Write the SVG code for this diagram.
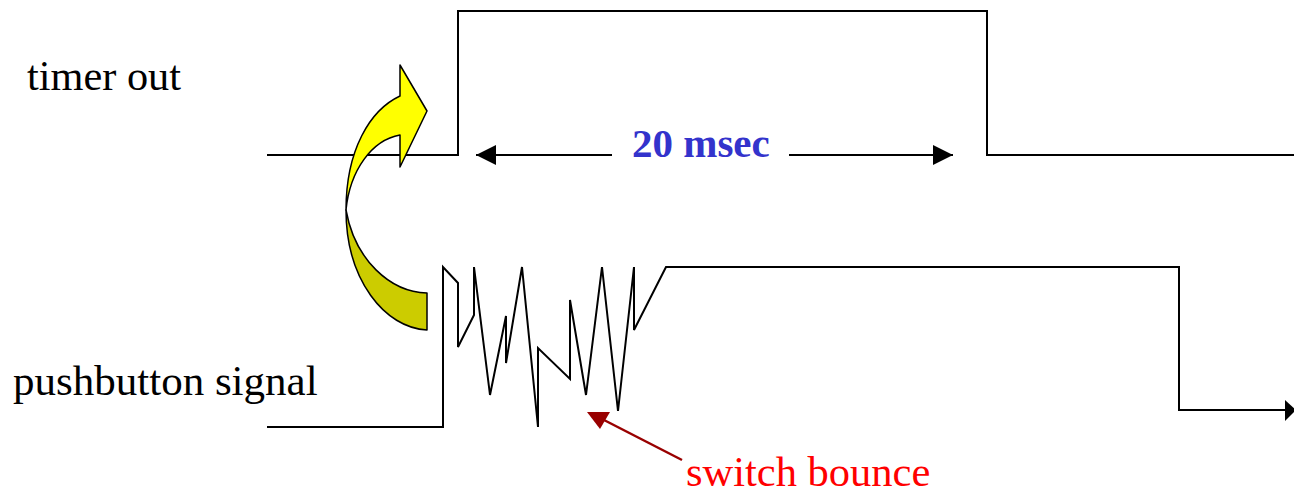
<svg xmlns="http://www.w3.org/2000/svg" width="1294" height="496" viewBox="0 0 1294 496">
<style>
.wave{fill:none;stroke:#000;stroke-width:2;stroke-linejoin:miter}
.lbl{font-family:"Liberation Serif","Times New Roman",serif;font-size:43px;fill:#000}
.dim{stroke:#000;stroke-width:2;fill:none}
</style>
<defs>
<marker id="ah" markerWidth="20" markerHeight="20" refX="20" refY="10" orient="auto" markerUnits="userSpaceOnUse">
<path d="M0,0 L20,10 L0,20 Z" fill="#000"/>
</marker>
</defs>
<rect width="1294" height="496" fill="#fff"/>
<g id="timer-out">
<polyline class="wave" points="267,155 458,155 458,11 987,11 987,155 1294,155"/>
</g>
<g id="pushbutton">
<polyline class="wave" points="267,427 443,427 443,267 458,283 458,347 474,315 474,267 490,395 506,316 506,363 522,267 538,427 538,348 570,379 570,300 586,395 602,267 618,411 634,267 634,330 666,267 1179,267 1179,410 1286,410"/>
<polygon points="1285,400 1296,410 1285,421" fill="#000"/>
</g>
<g id="connectors">
<line class="dim" x1="612" y1="155" x2="476" y2="155" marker-end="url(#ah)"/>
<line class="dim" x1="789" y1="155" x2="953" y2="155" marker-end="url(#ah)"/>
<line x1="682" y1="460" x2="604" y2="420" stroke="#990000" stroke-width="2.5"/>
<polygon points="587,412 610,412 600,429" fill="#990000"/>
</g>
<g id="curved-arrow" stroke="#000" stroke-width="1.5" stroke-linejoin="round">
<path d="M346,210 C346,280 385,328 427,330 L427,293 C390,292 355,260 346,210 Z" fill="#CCCC00"/>
<path d="M400,96 L400,65 L427,111 L400,167 L400,135 C372,140 350,170 346,210 C346,150 370,110 400,96 Z" fill="#FFFF00"/>
</g>
<g id="labels">
<text class="lbl" x="27" y="90" textLength="154" lengthAdjust="spacingAndGlyphs">timer out</text>
<text class="lbl" x="13" y="395">pushbutton signal</text>
<text x="632" y="157" font-family="Liberation Serif,Times New Roman,serif" font-size="41" font-weight="bold" fill="#3333CC">20 msec</text>
<text x="686" y="486" font-family="Liberation Serif,Times New Roman,serif" font-size="42.5" fill="#FF0000">switch bounce</text>
</g>
</svg>
